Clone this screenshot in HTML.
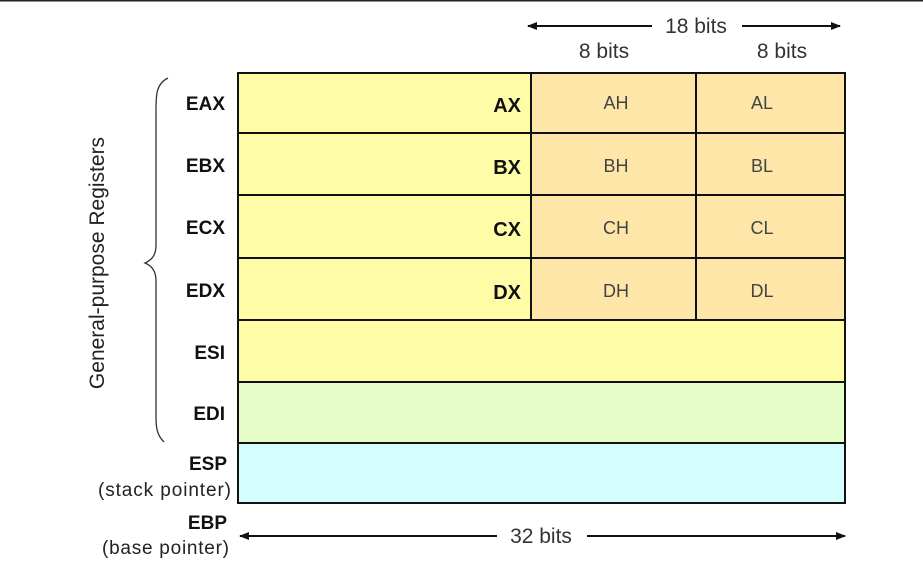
<!DOCTYPE html>
<html><head><meta charset="utf-8"><style>
html,body{margin:0;padding:0;background:#fff;}
svg{display:block;}
text{font-family:"Liberation Sans","DejaVu Sans",sans-serif;}
</style></head><body>
<svg width="923" height="571" viewBox="0 0 923 571" xmlns="http://www.w3.org/2000/svg">
<defs>
<marker id="a" viewBox="0 0 10 10" refX="9" refY="5" markerWidth="5" markerHeight="5" orient="auto-start-reverse"><path d="M0,1 L10,5 L0,9 z" fill="#111"/></marker>
</defs>
<line x1="0" y1="0.5" x2="923" y2="0.5" stroke="#222" stroke-width="2"/>
<rect x="238" y="73" width="293" height="247" fill="#fffca8"/>
<rect x="531" y="73" width="314" height="247" fill="#fde6a8"/>
<rect x="238" y="320" width="607" height="62" fill="#fffca8"/>
<rect x="238" y="382" width="607" height="61" fill="#e4fdc7"/>
<rect x="238" y="443" width="607" height="60" fill="#d4fdfd"/>
<g stroke="#111" stroke-width="2" fill="none">
<rect x="238" y="73" width="607" height="430"/>
<line x1="238" y1="133" x2="845" y2="133"/>
<line x1="238" y1="195" x2="845" y2="195"/>
<line x1="238" y1="258" x2="845" y2="258"/>
<line x1="238" y1="320" x2="845" y2="320"/>
<line x1="238" y1="382" x2="845" y2="382"/>
<line x1="238" y1="443" x2="845" y2="443"/>
<line x1="531" y1="73" x2="531" y2="320"/>
<line x1="696" y1="73" x2="696" y2="320"/>
</g>
<g font-weight="bold" font-size="19" fill="#111" text-anchor="end">
<text x="225" y="110">EAX</text>
<text x="225" y="172">EBX</text>
<text x="225" y="234">ECX</text>
<text x="225" y="297">EDX</text>
<text x="225" y="359">ESI</text>
<text x="225" y="420">EDI</text>
<text x="227" y="470">ESP</text>
<text x="227" y="529">EBP</text>
<text x="521" y="112" font-size="20">AX</text>
<text x="521" y="174" font-size="20">BX</text>
<text x="521" y="236" font-size="20">CX</text>
<text x="521" y="299" font-size="20">DX</text>
</g>
<g font-size="18" fill="#444" text-anchor="middle">
<text x="616" y="109">AH</text><text x="762" y="109">AL</text>
<text x="616" y="172">BH</text><text x="762" y="172">BL</text>
<text x="616" y="234">CH</text><text x="762" y="234">CL</text>
<text x="616" y="297">DH</text><text x="762" y="297">DL</text>
</g>
<g font-size="19" fill="#222" text-anchor="end">
<text x="231" y="496" textLength="133">(stack pointer)</text>
<text x="229" y="554" textLength="127">(base pointer)</text>
</g>
<g font-size="21" fill="#333" text-anchor="middle">
<text x="696" y="33">18 bits</text>
<text x="604" y="58">8 bits</text>
<text x="782" y="58">8 bits</text>
<text x="541" y="543">32 bits</text>
</g>
<g stroke="#111" stroke-width="2">
<line x1="652" y1="26" x2="528" y2="26" marker-end="url(#a)"/>
<line x1="742" y1="26" x2="840" y2="26" marker-end="url(#a)"/>
<line x1="497" y1="536" x2="240" y2="536" marker-end="url(#a)"/>
<line x1="587" y1="536" x2="845" y2="536" marker-end="url(#a)"/>
</g>
<path d="M168,78 C156,84 156,95 156,110 L156,245 C156,255 152,260 145,263 C152,266 156,271 156,281 L156,418 C156,430 158,436 164,442" stroke="#333" stroke-width="1.3" fill="none"/>
<text x="0" y="0" font-size="21" fill="#222" text-anchor="middle" transform="translate(104,263) rotate(-90)">General-purpose Registers</text>
</svg>
</body></html>
